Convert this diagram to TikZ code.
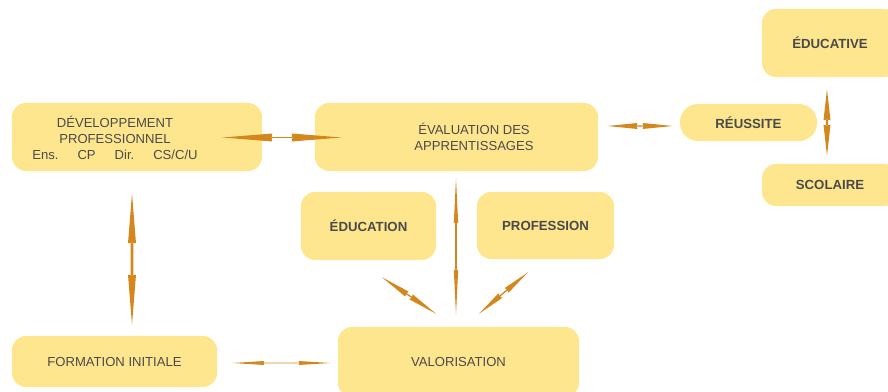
\documentclass[tikz,border=0pt]{standalone}
\usepackage{fontspec}
\setmainfont{Liberation Sans}
\usetikzlibrary{calc,arrows.meta}
\definecolor{boxFill}{HTML}{FEE68E}
\definecolor{boxText}{HTML}{4A4A4A}
\definecolor{linkOrange}{HTML}{D4871C}

\begin{document}
\begin{tikzpicture}[x=0.025cm, y=-0.025cm,
  box/.style={rounded corners=0.35cm, fill=boxFill, text=boxText, align=center,
    inner sep=0pt, font=\fontsize{9.3}{11.4}\selectfont},
  bold/.style={font=\fontsize{9.4}{11.4}\selectfont\bfseries},
  txt/.style={text=boxText, align=center, inner sep=0pt,
    font=\fontsize{9.3}{11.4}\selectfont},
  link/.style n args={3}{draw=linkOrange, line width=#3,
    arrows={Stealth[length=#1,width=#2,inset=0.5pt,line width=0pt]-Stealth[length=#1,width=#2,inset=0.5pt,line width=0pt]}}
]
  \useasboundingbox (0,0) rectangle (888,392);
  \clip (0,0) rectangle (888,392);

  \node[box, minimum width=6.25cm, minimum height=1.7cm] (dev) at (137,137) {};
  \node[txt] (devtext) at (115,138) {DÉVELOPPEMENT\\PROFESSIONNEL\\
    Ens.\hspace{13.5pt}CP\hspace{13.5pt}Dir.\hspace{13.5pt}CS/C/U};
  \node[box, minimum width=7.075cm, minimum height=1.7cm] (evalap) at (456.5,137) {};
  \node[txt] (evaltext) at (474,137) {ÉVALUATION DES\\APPRENTISSAGES};

  \node[box, bold, rounded corners=0.45cm, minimum width=3.425cm, minimum height=0.925cm]
    (reussite) at (748.5,122.5) {RÉUSSITE};
  \node[box, bold, minimum width=3.4cm, minimum height=1.7cm] (educative) at (830,43) {ÉDUCATIVE};
  \node[box, bold, minimum width=3.4cm, minimum height=1.05cm] (scolaire) at (830,185) {SCOLAIRE};
  \node[box, bold, minimum width=3.375cm, minimum height=1.7cm] (education) at (368.5,226) {ÉDUCATION};
  \node[box, bold, minimum width=3.425cm, minimum height=1.675cm] (profession) at (545.5,225.5) {PROFESSION};
  \node[box, minimum width=5.125cm, minimum height=1.275cm] (formation) at (114.5,361.5) {FORMATION INITIALE};
  \node[box, minimum width=6.025cm, minimum height=1.75cm] (valorisation) at (458.5,362) {VALORISATION};

  \draw[link={1.25cm}{0.2cm}{1.2pt}] ($(dev.east)+(-40,0.5)$) -- ($(evalap.west)+(27,0.5)$);
  \draw[link={0.75cm}{0.15cm}{0.8pt}] ($(evalap.east)+(9,-11)$) -- ($(reussite.west)+(-7,3.5)$);
  \draw[link={0.775cm}{0.175cm}{1pt}] ($(educative.south)+(-3,12)$) -- ($(scolaire.north)+(-3,-8)$);
  \draw[link={1.25cm}{0.2cm}{1.8pt}] ($(dev.south)+(-5,22)$) -- ($(formation.north)+(17.5,-11)$);
  \draw[link={1.125cm}{0.11cm}{0.8pt}] ($(evalap.south)+(-0.5,7)$) -- ($(valorisation.north)+(-2.5,-12)$);
  \draw[link={0.75cm}{0.15cm}{0.9pt}] ($(education.south)+(13.5,17)$) -- ($(valorisation.north)+(-22.5,-13)$);
  \draw[link={0.7cm}{0.15cm}{0.9pt}] ($(profession.south)+(-17.5,13)$) -- ($(valorisation.north)+(20.5,-13)$);
  \draw[link={0.8cm}{0.1cm}{0.6pt}] ($(formation.east)+(15,1.5)$) -- ($(valorisation.west)+(-7,1)$);
\end{tikzpicture}
\end{document}
